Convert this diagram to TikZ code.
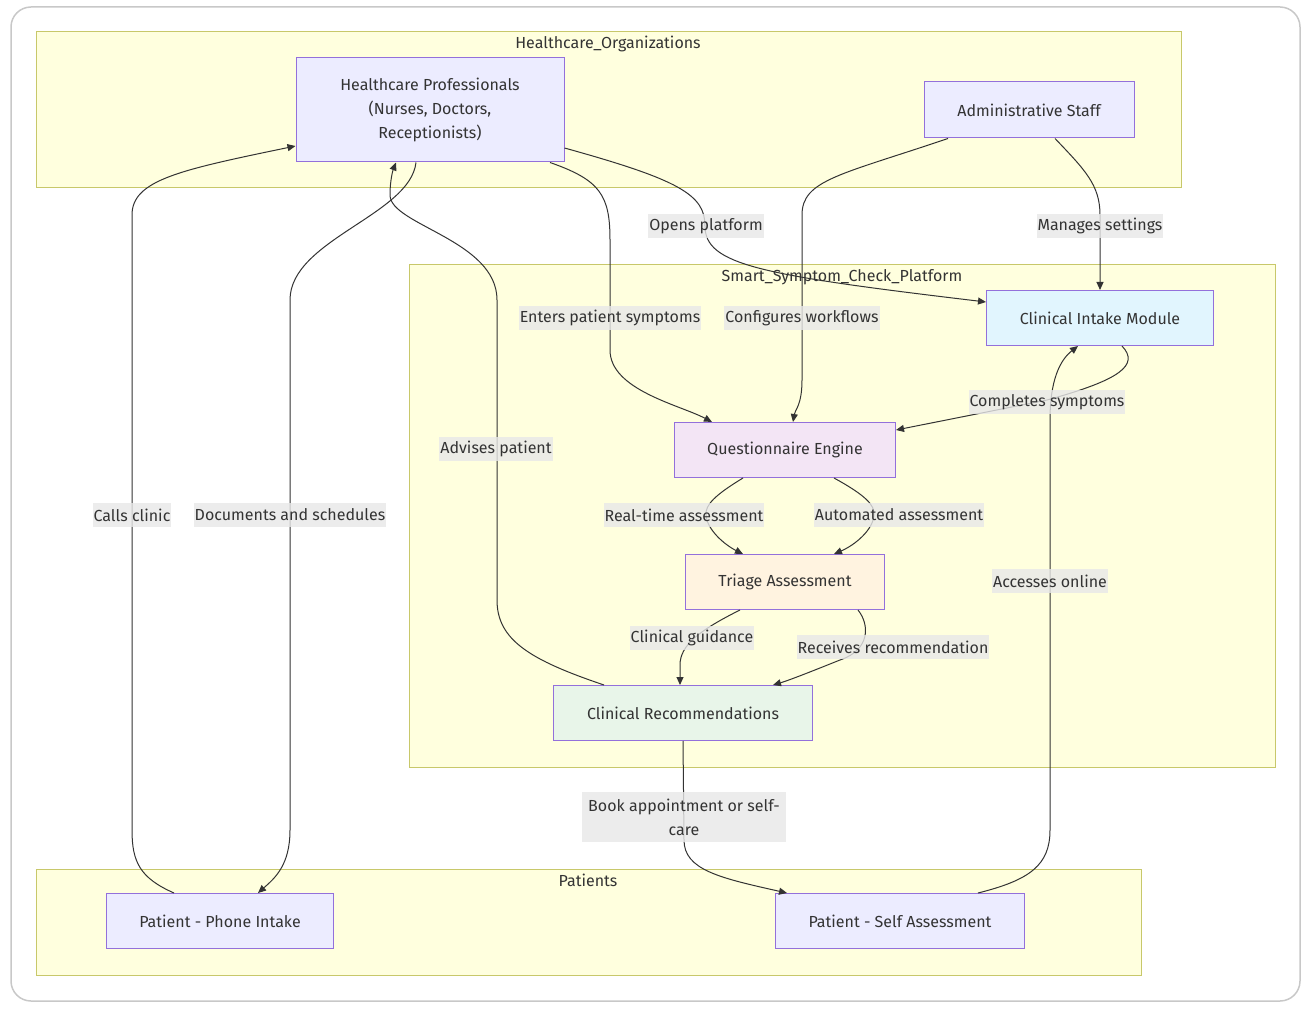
\documentclass[tikz,border=0pt]{standalone}
\usepackage{fontspec}
\setmainfont{Fira Sans}
\usetikzlibrary{arrows.meta}
\definecolor{grpfill}{HTML}{FFFFDE}
\definecolor{grpline}{HTML}{C8C86A}
\definecolor{nodefill}{HTML}{ECECFF}
\definecolor{nodeline}{HTML}{9370DB}
\definecolor{intakefill}{HTML}{E1F5FE}
\definecolor{questfill}{HTML}{F3E5F5}
\definecolor{triagefill}{HTML}{FFF3E0}
\definecolor{recfill}{HTML}{E8F5E9}
\definecolor{lblfill}{HTML}{E8E8E8}
\definecolor{ink}{HTML}{333333}
\definecolor{framegray}{HTML}{C8C8C8}

\begin{document}
\begin{tikzpicture}[x=1pt,y=-1pt,
  font=\fontsize{16}{24}\selectfont, text=ink, >={Triangle[length=8pt,width=7pt]},
  box/.style={draw=nodeline,fill=nodefill,line width=1pt,minimum height=55,align=center},
  grp/.style={draw=grpline,fill=grpfill,line width=1pt},
  lbl/.style={fill=lblfill,fill opacity=0.8,text opacity=1,inner xsep=1pt,inner ysep=2pt,minimum height=24,align=center},
  flow/.style={draw=ink,line width=1pt,->}]
\useasboundingbox (0,0) rectangle (1312,1016);
\draw[draw=framegray,fill=white,line width=1.5pt,rounded corners=20] (11,7) rectangle (1300,1001);
% groups
\draw[grp] (36,32) rectangle (1181,188);
\node (orgsT) at (608,44) {Healthcare\_Organizations};
\draw[grp] (409,265) rectangle (1275,767);
\node (platT) at (842,277) {Smart\_Symptom\_Check\_Platform};
\draw[grp] (36,869) rectangle (1141,975);
\node (patT) at (588,880) {Patients};
% actors and modules
\node[box,minimum width=268,minimum height=104] (hp) at (430,110) {Healthcare Professionals\\(Nurses, Doctors,\\Receptionists)};
\node[box,minimum width=210,minimum height=56] (admin) at (1029,110) {Administrative Staff};
\node[box,fill=intakefill,minimum width=227] (cim) at (1100,318) {Clinical Intake Module};
\node[box,fill=questfill,minimum width=221] (qe) at (785,450) {Questionnaire Engine};
\node[box,fill=triagefill,minimum width=199] (ta) at (785,582) {Triage Assessment};
\node[box,fill=recfill,minimum width=259] (cr) at (683,713) {Clinical Recommendations};
\node[box,minimum width=227] (ppi) at (220,921) {Patient - Phone Intake};
\node[box,minimum width=249] (psa) at (900,921) {Patient - Self Assessment};
% connectors
\draw[flow] ([xshift=-46]ppi.north) .. controls (140,878) and (132,862) .. (132,830) -- (132,215) .. controls (132,180) and (180,170) .. ([yshift=-36]hp.west);
\draw[flow] ([xshift=-14]hp.south) .. controls (410,215) and (290,240) .. (290,300) -- (290,830) .. controls (290,865) and (275,878) .. ([xshift=38]ppi.north);
\draw[flow] ([xshift=120]hp.south) .. controls (600,180) and (610,195) .. (610,240) -- (610,350) .. controls (610,390) and (680,405) .. ([xshift=-73]qe.north);
\draw[flow] ([yshift=-38]hp.east) .. controls (680,180) and (705,195) .. (705,226) .. controls (705,265) and (760,275) .. ([yshift=16]cim.west);
\draw[flow] ([xshift=-81]admin.south) .. controls (840,175) and (802,180) .. (802,215) -- (802,380) .. controls (802,405) and (795,410) .. ([xshift=8]qe.north);
\draw[flow] ([xshift=26]admin.south) .. controls (1085,170) and (1100,185) .. (1100,215) -- (cim.north);
\draw[flow] ([xshift=22]cim.south) .. controls (1140,365) and (1120,380) .. (1047,400) -- ([yshift=20]qe.east);
\draw[flow] ([xshift=-42]qe.south) .. controls (715,495) and (705,505) .. (706,515) .. controls (707,530) and (725,545) .. ([xshift=-42]ta.north);
\draw[flow] ([xshift=49]qe.south) .. controls (865,495) and (875,505) .. (874,515) .. controls (873,530) and (855,545) .. ([xshift=49]ta.north);
\draw[flow] ([xshift=-45]ta.south) .. controls (700,630) and (680,645) .. (680,665) -- ([xshift=-3]cr.north);
\draw[flow] ([xshift=73]ta.south) .. controls (870,625) and (870,650) .. (840,660) .. controls (815,670) and (790,680) .. ([xshift=90]cr.north);
\draw[flow] ([xshift=-79]cr.north) .. controls (530,660) and (497,640) .. (497,600) -- (497,300) .. controls (497,240) and (390,225) .. (390,195) .. controls (390,180) and (393,170) .. ([xshift=-34]hp.south);
\draw[flow] (cr.south) -- (684,840) .. controls (684,870) and (720,878) .. ([xshift=-113]psa.north);
\draw[flow] ([xshift=78]psa.north) .. controls (1030,880) and (1050,865) .. (1050,830) -- (1050,420) .. controls (1050,380) and (1060,360) .. ([xshift=-22]cim.south);
% edge labels
\node[lbl] (lCalls) at (132,515) {Calls clinic};
\node[lbl] (lDocs) at (290,515) {Documents and schedules};
\node[lbl] (lEnters) at (610,318) {Enters patient symptoms};
\node[lbl] (lOpens) at (706,226) {Opens platform};
\node[lbl] (lConf) at (802,318) {Configures workflows};
\node[lbl] (lManages) at (1100,226) {Manages settings};
\node[lbl] (lCompl) at (1047,402) {Completes symptoms};
\node[lbl] (lReal) at (684,515) {Real-time assessment};
\node[lbl] (lAuto) at (899,515) {Automated assessment};
\node[lbl] (lGuide) at (692,638) {Clinical guidance};
\node[lbl] (lRecv) at (893,647) {Receives recommendation};
\node[lbl] (lAdv) at (496,449) {Advises patient};
\node[lbl,minimum width=204,minimum height=50] (lBook) at (684,817) {Book appointment or self-\\care};
\node[lbl] (lAcc) at (1050,581) {Accesses online};
\end{tikzpicture}
\end{document}
